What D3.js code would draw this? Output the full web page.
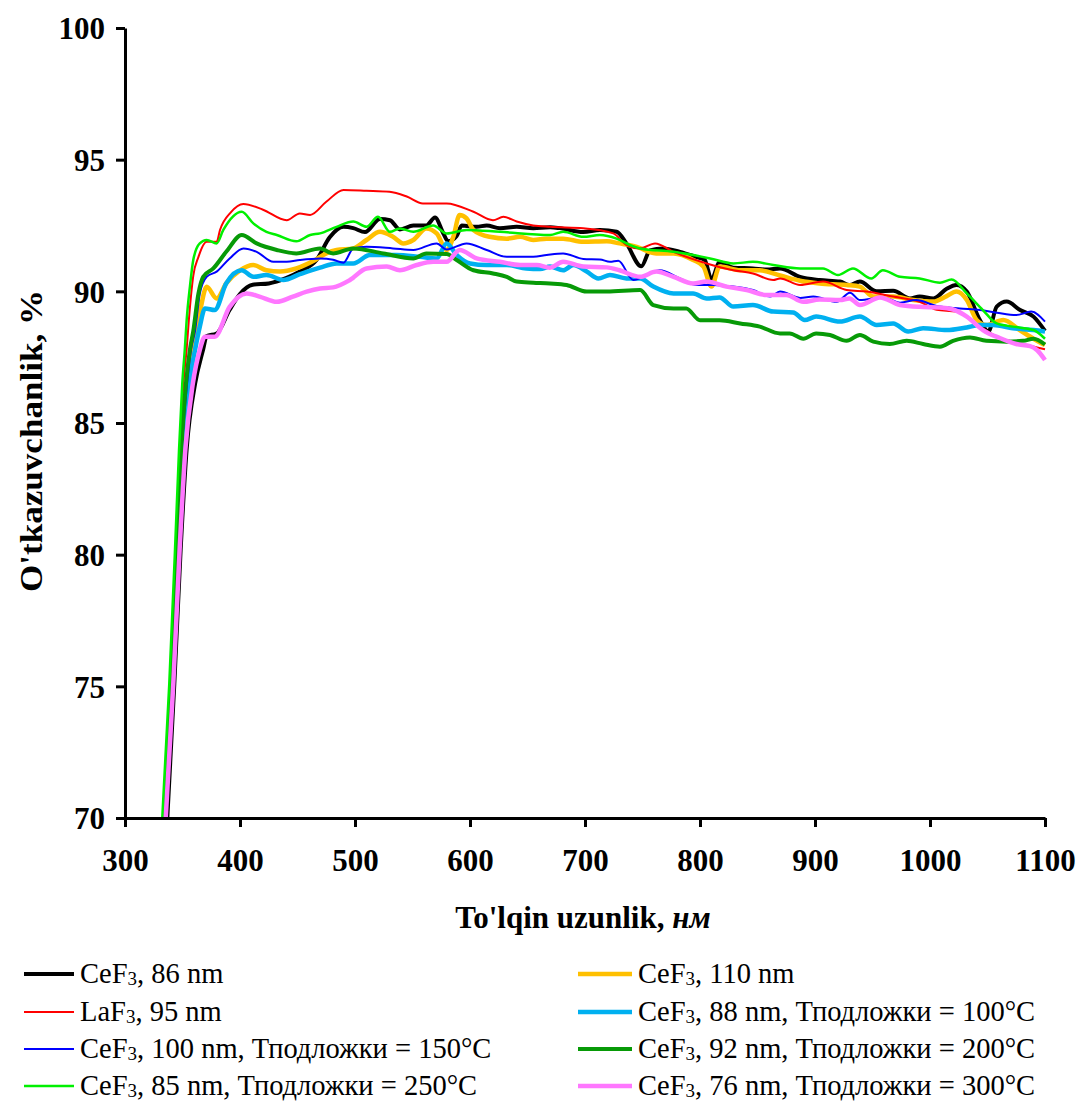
<!DOCTYPE html>
<html>
<head>
<meta charset="utf-8">
<script src="https://cdn.jsdelivr.net/npm/d3@7"></script>
<style>
  body { margin: 0; background: #fff; }
  svg { display: block; font-family: "Liberation Serif", "Times New Roman", serif; }
  .axis path, .axis line { stroke: #000; stroke-width: 3; }
  .axis text { font-size: 31px; font-weight: bold; fill: #000; font-family: "Liberation Serif", "Times New Roman", serif; }
  .title { font-size: 31px; font-weight: bold; fill: #000; font-family: "Liberation Serif", "Times New Roman", serif; }
  .legendText { font-size: 28.5px; fill: #000; }
</style>
</head>
<body>
<div id="chart"></div>
<script>
"use strict";

// transmission spectra, [wavelength nm, transmission %]
let ceF3_86 = [[336.8,70],[342.9,75.1],[348.4,80.2],[353.6,84],[361,86.5],[368,87.8],[371,88.3],[379.7,88.4],[391,89.3],[400,89.9],[411,90.25],[425,90.3],[440,90.5],[452,90.75],[466.7,91.2],[478,92.05],[490,92.45],[498.5,92.4],[508.7,92.25],[521.7,92.75],[530.4,92.7],[539,92.35],[550.7,92.5],[562,92.5],[569.6,92.8],[576.8,92.2],[581,91.9],[588.4,92.1],[592.8,92.5],[605.8,92.45],[614.5,92.5],[626,92.4],[640.6,92.45],[655,92.4],[669.6,92.43],[678,92.4],[698.5,92.25],[713,92.33],[727.5,92.26],[736,91.82],[749,90.95],[756.5,91.55],[768,91.63],[782.6,91.5],[797,91.3],[804,91.2],[810,90.45],[817,91.1],[829,90.9],[846,90.87],[858,90.83],[869.6,90.87],[887,90.55],[904,90.43],[921.7,90.37],[930,90.24],[939,90.37],[953.6,90.0],[968,90.02],[982.6,89.73],[991,89.8],[1003,89.73],[1014.5,90.1],[1023,90.24],[1032,89.99],[1043.5,88.9],[1050.7,88.47],[1058,89.42],[1066.7,89.61],[1078,89.3],[1090,89.04],[1100,88.5]];

let ceF3_110 = [[334.5,70],[340.8,75.1],[346,80.2],[350.5,84],[355,86.5],[359,87.8],[362,88.4],[366,89.4],[371,90.17],[379.7,89.73],[388,90.3],[400,90.8],[411.6,91.0],[423,90.8],[434.8,90.75],[449,90.87],[463.7,91.15],[475,91.44],[484,91.57],[498.5,91.63],[510,91.95],[521.7,92.26],[533,92.07],[542,91.82],[550.7,91.95],[562,92.39],[571,92.2],[579.7,91.57],[585.5,92.07],[591,92.9],[597,92.77],[603,92.33],[617,92.07],[632,92.0],[643.5,92.07],[655,91.95],[666.6,92.0],[681,92.0],[698.5,91.88],[719,91.9],[730,91.82],[745,91.69],[762,91.44],[777,91.44],[794,91.19],[803,90.94],[810,90.18],[817,90.94],[835,90.8],[852,90.8],[869.6,90.6],[887,90.4],[904,90.3],[927.5,90.24],[939,90.18],[950.7,89.8],[968,89.8],[985.5,89.67],[1003,89.61],[1014.5,89.82],[1023,89.99],[1032,89.67],[1040.6,88.91],[1049,88.72],[1063.7,88.91],[1078,88.53],[1090,88.2],[1100,87.96]];

let laF3_95 = [[333.3,70],[339.2,75.1],[344.2,80.2],[347.8,84],[350.8,86.5],[353.6,87.8],[355.5,88.9],[359.4,90.6],[363.8,91.3],[371,91.88],[379.7,91.88],[382.6,92.33],[392,93.0],[402.9,93.32],[420,93.1],[440.6,92.7],[452,92.96],[461,92.9],[475,93.4],[490,93.85],[510,93.82],[530,93.78],[545,93.6],[559,93.34],[579.7,93.34],[603,93.02],[620,92.7],[629,92.83],[640.6,92.65],[655,92.5],[669.6,92.45],[698.5,92.4],[724.6,92.2],[736,91.76],[747.8,91.63],[760.9,91.82],[776.8,91.5],[805.8,91.06],[829,90.8],[846,90.68],[863.7,90.43],[869.6,90.49],[887,90.24],[907,90.37],[927.5,90.05],[945,89.99],[968,89.8],[991,89.6],[1005.8,89.3],[1023,89.23],[1043.5,88.66],[1058,88.28],[1078,88.03],[1100,87.8]];

let ceF3_88_t100 = [[334.8,70],[341,75.1],[346.5,80.2],[351,84],[356,86.5],[361,87.8],[365,88.65],[369.6,89.35],[378,89.29],[388,90.3],[401.5,90.8],[411.6,90.55],[423,90.62],[437.7,90.43],[452,90.65],[469.6,90.9],[484,91.06],[498.5,91.06],[513,91.38],[536,91.38],[556.5,91.31],[571,91.25],[579.7,91.82],[588.4,91.38],[600,91.06],[614.5,91.0],[632,91.0],[649,90.87],[661,90.85],[669.6,90.94],[681,90.8],[690,91.0],[701.5,90.75],[711.6,90.49],[721.7,90.62],[736,90.49],[748,90.49],[759.4,90.18],[777,89.92],[794,89.92],[805.8,89.73],[817,89.77],[829,89.42],[846,89.48],[863.7,89.23],[881,89.2],[891,88.91],[901,89.04],[921.7,88.85],[939,89.04],[953.6,88.72],[968,88.78],[981,88.47],[994,88.6],[1014.5,88.53],[1032,88.63],[1043.5,88.72],[1055,88.72],[1072,88.6],[1090,88.53],[1100,88.47]];

let ceF3_100_t150 = [[334.5,70],[340.5,75.1],[345.5,80.2],[349.5,84],[354,86.5],[357.5,87.8],[360.9,88.5],[365,89.9],[371,90.55],[379.7,90.75],[391,91.25],[403,91.63],[414.5,91.5],[429,91.12],[440.6,91.12],[452,91.19],[469.6,91.25],[481,91.2],[490,91.09],[498.5,91.63],[510,91.69],[533,91.63],[550.7,91.57],[571,91.82],[579.7,91.59],[597,91.82],[614.5,91.57],[632,91.31],[655,91.31],[666.7,91.38],[681,91.44],[698.5,91.23],[713,91.21],[721.7,91.12],[729,91.16],[742,90.43],[753.6,90.62],[765,90.8],[782.6,90.49],[797,90.24],[811.6,90.24],[829,90.18],[846,90.05],[861,89.8],[869.6,89.99],[887,89.75],[898.5,89.8],[918.9,89.6],[930.4,89.95],[939,89.67],[959,89.77],[974,89.57],[988,89.67],[1005.8,89.44],[1026,89.35],[1043.5,89.29],[1058,89.19],[1075,89.1],[1088,89.23],[1100,88.85]];

let ceF3_92_t200 = [[333.9,70],[340,75.1],[345,80.2],[349,84],[353,86.5],[356.5,87.8],[359.4,88.5],[363.8,89.9],[368,90.55],[376.8,90.87],[388,91.5],[401.5,92.14],[414.5,91.82],[432,91.57],[449,91.44],[469.6,91.63],[481,91.44],[498.5,91.63],[524.6,91.44],[550.7,91.25],[562,91.44],[579.7,91.42],[588.4,91.19],[603,90.8],[620,90.68],[632,90.55],[640.6,90.37],[655,90.33],[669.6,90.3],[684,90.24],[701.5,89.99],[719,89.99],[748,90.05],[759.4,89.48],[777,89.35],[788,89.35],[800,88.9],[817,88.9],[835,88.78],[852,88.66],[869.6,88.4],[878,88.4],[889.8,88.2],[901,88.4],[913,88.34],[927.5,88.12],[939,88.34],[950.7,88.09],[965,88.0],[979.7,88.12],[994,88.0],[1008.7,87.9],[1020,88.12],[1034.8,88.25],[1049,88.12],[1066.7,88.09],[1081,88.12],[1090,88.2],[1100,87.98]];

let ceF3_85_t250 = [[332.4,70],[338.5,75.1],[343.5,80.2],[347,84],[349.8,86.5],[352,87.8],[353.6,88.9],[356.5,90.2],[359.4,91.2],[365,91.82],[371,91.95],[379.7,91.82],[385.5,92.33],[401.5,93.02],[411.6,92.58],[423,92.26],[432,92.14],[449,91.9],[461,92.14],[469.6,92.2],[484,92.45],[498.5,92.65],[510,92.45],[520,92.83],[530.4,92.26],[539,92.39],[550.7,92.26],[568,92.5],[579.7,92.2],[597,92.33],[626,92.26],[669.6,92.14],[681,92.26],[698.5,92.07],[713,92.14],[727.5,92.0],[739,91.76],[748,91.63],[777,91.5],[808.7,91.25],[829,91.06],[846,91.12],[863.7,91.0],[887,90.87],[907,90.87],[920,90.62],[933,90.87],[949,90.49],[959,90.8],[974,90.55],[991,90.49],[1008.7,90.33],[1018.8,90.45],[1032,89.92],[1046,89.29],[1058,88.78],[1072,88.66],[1090,88.53],[1100,88.2]];

let ceF3_76_t300 = [[335.4,70],[342,75.1],[347.5,80.2],[352.5,84],[359,86.5],[365,87.77],[369.6,88.28],[378,88.28],[391,89.41],[405.8,89.92],[417,89.8],[432,89.6],[446,89.8],[458,89.99],[469.6,90.11],[481,90.15],[495.6,90.43],[510,90.87],[527.6,90.94],[539,90.8],[553.6,91.0],[568,91.12],[579.7,91.12],[591,91.57],[605.8,91.25],[626,91.12],[643.5,91.0],[658,91.0],[669.6,90.9],[681,91.12],[698.5,90.94],[719,90.91],[730,90.8],[748,90.55],[762,90.75],[777,90.55],[794,90.3],[805.8,90.37],[823,90.18],[840.6,90.05],[858,89.86],[875,89.86],[889.8,89.6],[904,89.69],[921.7,89.67],[930,89.73],[939,89.48],[956.5,89.77],[974,89.48],[991,89.41],[1008.7,89.39],[1020,89.31],[1032,89.04],[1046,88.53],[1061,88.22],[1075,88.0],[1087,87.92],[1093,87.77],[1100,87.39]];

// legend labels split as [compound, subscript, rest], row by row
let seriesNames = [
  ["CeF", "3", ", 86 nm"],
  ["CeF", "3", ", 110 nm"],
  ["LaF", "3", ", 95 nm"],
  ["CeF", "3", ", 88 nm, Тподложки = 100°C"],
  ["CeF", "3", ", 100 nm, Тподложки = 150°C"],
  ["CeF", "3", ", 92 nm, Тподложки = 200°C"],
  ["CeF", "3", ", 85 nm, Тподложки = 250°C"],
  ["CeF", "3", ", 76 nm, Тподложки = 300°C"]
];
let seriesData = [ceF3_86, ceF3_110, laF3_95, ceF3_88_t100, ceF3_100_t150, ceF3_92_t200, ceF3_85_t250, ceF3_76_t300];
let seriesColors = ["#000000", "#ffc000", "#ff0000", "#00b0f0", "#0000ff", "#079a07", "#00f000", "#ff77ff"];
let seriesWidths = [4, 4.5, 2, 4.5, 2, 4, 2.5, 4.5];

let xTicks = [300, 400, 500, 600, 700, 800, 900, 1000, 1100];
let yTicks = [70, 75, 80, 85, 90, 95, 100];

let width = 1081;
let height = 1104;
let margin = { left: 125, top: 28, right: 36, bottom: 286 };

let svg = d3.select("#chart").append("svg")
  .attr("width", width)
  .attr("height", height)
  .attr("viewBox", [0, 0, width, height].join(" "));

let x = d3.scaleLinear()
  .domain([300, 1100])
  .range([margin.left, width - margin.right]);

let y = d3.scaleLinear()
  .domain([70, 100])
  .range([height - margin.bottom, margin.top]);

drawLines();
drawAxes();
drawLegend();

function drawLines() {
  let line = d3.line()
    .x(d => x(d[0]))
    .y(d => y(d[1]))
    .curve(d3.curveMonotoneX);

  svg.append("g")
    .selectAll("path")
    .data(seriesData)
    .enter().append("path")
    .attr("d", line)
    .attr("fill", "none")
    .attr("stroke", (d, i) => seriesColors[i])
    .attr("stroke-width", (d, i) => seriesWidths[i])
    .attr("stroke-linejoin", "round");
}

function drawAxes() {
  let xAxis = svg.append("g")
    .attr("class", "axis")
    .attr("transform", `translate(0, ${y(70)})`)
    .call(d3.axisBottom(x).tickValues(xTicks).tickFormat(d3.format("d")).tickSizeInner(9).tickSizeOuter(0));

  xAxis.selectAll("text")
    .attr("dy", null)
    .attr("y", 53);

  let yAxis = svg.append("g")
    .attr("class", "axis")
    .attr("transform", `translate(${x(300)}, 0)`)
    .call(d3.axisLeft(y).tickValues(yTicks).tickFormat(d3.format("d")).tickSizeInner(9).tickSizeOuter(0).tickPadding(11));

  yAxis.selectAll("text")
    .attr("dy", "0.35em");

  // x title, unit in italics
  let xTitle = svg.append("text")
    .attr("class", "title")
    .attr("x", 583)
    .attr("y", 928)
    .style("text-anchor", "middle");

  xTitle.append("tspan").text("To'lqin uzunlik, ");
  xTitle.append("tspan").style("font-style", "italic").text("нм");

  svg.append("text")
    .attr("class", "title")
    .attr("transform", "translate(42, 441) rotate(-90)")
    .attr("textLength", 302)
    .attr("lengthAdjust", "spacingAndGlyphs")
    .style("text-anchor", "middle")
    .text("O'tkazuvchanlik, %");
}

function drawLegend() {
  let colX = [24, 578];
  let lineLen = [50, 54];
  let rowY = [974, 1012, 1049, 1086];

  let items = svg.append("g")
    .selectAll("g")
    .data(seriesNames)
    .enter().append("g")
    .attr("transform", (d, i) => `translate(${colX[i % 2]}, ${rowY[Math.floor(i / 2)]})`);

  items.append("line")
    .attr("x1", 0)
    .attr("x2", (d, i) => lineLen[i % 2])
    .attr("y1", 0)
    .attr("y2", 0)
    .attr("stroke", (d, i) => seriesColors[i])
    .attr("stroke-width", (d, i) => seriesWidths[i]);

  let label = items.append("text")
    .attr("class", "legendText")
    .attr("x", (d, i) => lineLen[i % 2] + 6)
    .attr("y", 9);

  label.append("tspan").text(d => d[0]);
  label.append("tspan")
    .attr("dy", 2)
    .style("font-size", "19px")
    .text(d => d[1]);
  label.append("tspan")
    .attr("dy", -2)
    .text(d => d[2]);
}
</script>
</body>
</html>
